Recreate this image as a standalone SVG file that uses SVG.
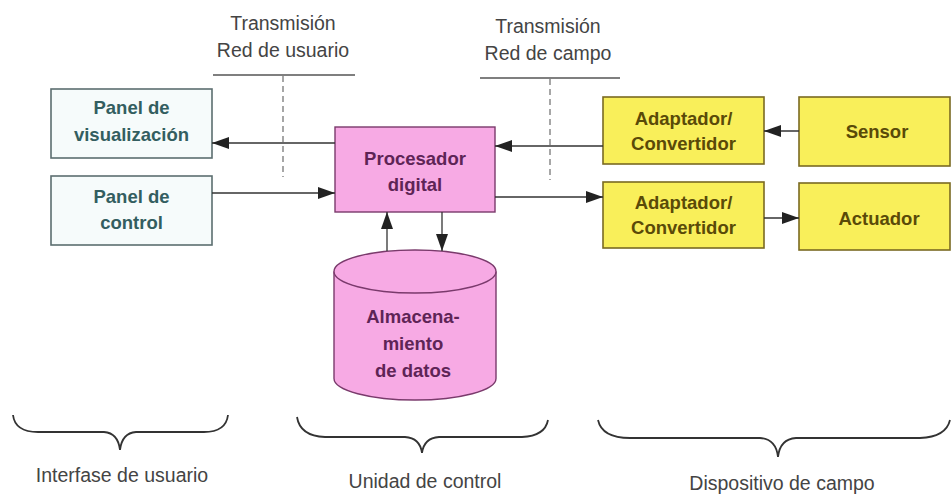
<svg xmlns="http://www.w3.org/2000/svg" width="951" height="496" viewBox="0 0 951 496">
<style>
.bl{fill:#f6fbfb;stroke:#5c6e70;stroke-width:1.6}
.pk{fill:#f7aae4;stroke:#7a3a6c;stroke-width:1.4}
.yl{fill:#f9ef5a;stroke:#7a6a22;stroke-width:1.6}
.t{font-family:"Liberation Sans",Arial,sans-serif;font-size:18.5px;font-weight:bold;text-anchor:middle}
.tb{fill:#335e60}
.tp{fill:#5e2456}
.ty{fill:#5a4a08}
.lab{font-family:"Liberation Sans",Arial,sans-serif;font-size:19.5px;fill:#444;text-anchor:middle}
.c{stroke:#333;stroke-width:1.3;fill:none}
.d{stroke:#777;stroke-width:1.3;stroke-dasharray:6 4;fill:none}
.h{stroke:#555;stroke-width:1.3;fill:none}
.br{stroke:#333;stroke-width:1.8;fill:none}
</style>
<defs>
<marker id="ah" viewBox="0 0 17 12" refX="17" refY="6" markerWidth="17" markerHeight="12" markerUnits="userSpaceOnUse" orient="auto">
<path d="M0,0 L17,6 L0,12 Z" fill="#222"/>
</marker>
</defs>
<rect width="951" height="496" fill="#ffffff"/>

<g id="labels">
<text class="lab" x="283" y="30">Transmisión</text>
<text class="lab" x="283" y="57">Red de usuario</text>
<text class="lab" x="548" y="33">Transmisión</text>
<text class="lab" x="548" y="60">Red de campo</text>
<line class="h" x1="213" y1="75" x2="355" y2="75"/>
<line class="d" x1="283" y1="76" x2="283" y2="177"/>
<line class="h" x1="480" y1="78" x2="620" y2="78"/>
<line class="d" x1="550" y1="79" x2="550" y2="180"/>
</g>

<g id="panel-visualizacion">
<rect class="bl" x="51" y="89" width="161" height="69"/>
<text class="t tb" x="131.5" y="114">Panel de</text>
<text class="t tb" x="131.5" y="141">visualización</text>
</g>
<g id="panel-control">
<rect class="bl" x="51" y="176" width="161" height="69"/>
<text class="t tb" x="131.5" y="203">Panel de</text>
<text class="t tb" x="131.5" y="229">control</text>
</g>
<g id="procesador">
<rect class="pk" x="335" y="127" width="160" height="85"/>
<text class="t tp" x="415" y="165">Procesador</text>
<text class="t tp" x="415" y="191">digital</text>
</g>
<g id="almacenamiento">
<path class="pk" d="M334,271.5 L334,378.5 A81,21.5 0 0 0 496,378.5 L496,271.5"/>
<ellipse class="pk" cx="415" cy="271.5" rx="81" ry="21.5"/>
<text class="t tp" x="413" y="323">Almacena-</text>
<text class="t tp" x="413" y="350">miento</text>
<text class="t tp" x="413" y="377">de datos</text>
</g>
<g id="adaptador1">
<rect class="yl" x="603" y="97" width="161" height="67"/>
<text class="t ty" x="683.5" y="125">Adaptador/</text>
<text class="t ty" x="683.5" y="150">Convertidor</text>
</g>
<g id="sensor">
<rect class="yl" x="799" y="97" width="151" height="69"/>
<text class="t ty" x="877" y="138">Sensor</text>
</g>
<g id="adaptador2">
<rect class="yl" x="603" y="182" width="161" height="66"/>
<text class="t ty" x="683.5" y="209">Adaptador/</text>
<text class="t ty" x="683.5" y="234">Convertidor</text>
</g>
<g id="actuador">
<rect class="yl" x="799" y="183" width="151" height="67"/>
<text class="t ty" x="879" y="225">Actuador</text>
</g>

<g id="connectors">
<line class="c" x1="335" y1="143" x2="212" y2="143" marker-end="url(#ah)"/>
<line class="c" x1="212" y1="193" x2="335" y2="193" marker-end="url(#ah)"/>
<line class="c" x1="603" y1="146" x2="495" y2="146" marker-end="url(#ah)"/>
<line class="c" x1="495" y1="197" x2="603" y2="197" marker-end="url(#ah)"/>
<line class="c" x1="799" y1="131" x2="764" y2="131" marker-end="url(#ah)"/>
<line class="c" x1="764" y1="218" x2="799" y2="218" marker-end="url(#ah)"/>
<line class="c" x1="387" y1="251" x2="387" y2="212" marker-end="url(#ah)"/>
<line class="c" x1="442" y1="212" x2="442" y2="251" marker-end="url(#ah)"/>
</g>

<g id="groups">
<path class="br" d="M13,415 Q15,432 38,432 L104,432 Q118,433 120,450 Q122,433 136,432 L204,432 Q226,432 228,415"/>
<path class="br" d="M297,417 Q300,436 325,437 L405,437 Q420,438 422,453 Q424,438 439,437 L522,437 Q545,436 548,420"/>
<path class="br" d="M598,420 Q602,438 630,438 L760,438 Q776,439 778,457 Q780,439 796,438 L920,438 Q946,437 950,420"/>
<text class="lab" x="122" y="482">Interfase de usuario</text>
<text class="lab" x="425" y="488">Unidad de control</text>
<text class="lab" x="782" y="490">Dispositivo de campo</text>
</g>
</svg>
